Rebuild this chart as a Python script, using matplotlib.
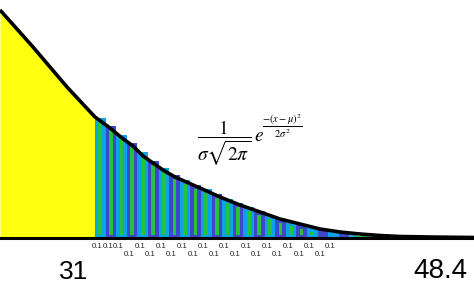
import numpy as np
import matplotlib.pyplot as plt

# curve: position along the axis and height above the baseline
curve_x = [0, 33, 67, 95, 110, 122, 133, 143, 153, 163, 175, 200, 220, 240,
           260, 280, 300, 320, 340, 360, 380, 400, 430, 474]
curve_h = [228, 191, 151, 121, 110, 100, 92, 82, 75, 68, 61, 50, 41, 33,
           26, 19, 14, 9, 6, 4, 2.5, 1.5, 1, 0.5]

# bar heights (one per 0.1 slice), left to right
bar_h = [120, 112, 103, 95, 86, 77, 70, 63, 58, 53, 49, 44,
         39, 35, 31, 27, 23, 19, 16, 13, 10, 8, 6, 5]
bar_labels = ['0.1'] * 23

x_labels = ['31', '48.4']

# layout
bar_start = 95
bar_w = 10.6
light, dark, green = '#0aa2e8', '#3f48cc', '#26c23a'

plt.rcParams['mathtext.fontset'] = 'stix'
fig = plt.figure(figsize=(4.74, 2.86), dpi=100)
ax = fig.add_axes([0, 0, 1, 1])
ax.set_xlim(0, 474)
ax.set_ylim(-48, 238)
ax.axis('off')

cx = np.array(curve_x, dtype=float)
ch = np.array(curve_h, dtype=float)

# yellow area left of the bars
xs = np.linspace(0, bar_start, 50)
ax.fill_between(xs, 0, np.interp(xs, cx, ch), color='#ffff10', lw=0, zorder=1)

# bars with green core
for i, h in enumerate(bar_h):
    left = bar_start + i * bar_w
    col = light if i % 2 == 0 else dark
    ax.bar(left, h, width=bar_w, align='edge', color=col, lw=0, zorder=2)
    ih = h - 7
    if ih > 1.5:
        icol = green if i < 21 else (dark if col == light else light)
        ax.bar(left + bar_w / 2, ih, bottom=3, width=3.6, color=icol, lw=0, zorder=3)
# last little teal piece and green tail
tail_left = bar_start + len(bar_h) * bar_w
ax.bar(tail_left, 4, width=8, align='edge', color='#20b0c0', lw=0, zorder=2)
ax.bar(tail_left + 8, 2, width=32, align='edge', color=green, lw=0, zorder=2)

# curve and baseline
ax.plot(cx, ch, color='black', lw=2.6, solid_capstyle='butt', zorder=5)
ax.plot([0, 474], [0, 0], color='black', lw=2.2, zorder=5)

# little 0.1 labels, staggered in two rows
for i, lab in enumerate(bar_labels):
    xc = bar_start + (i + 0.5) * bar_w - 3
    yy = -16 if (i % 2 == 1 and i >= 3) else -9
    ax.text(xc, yy, lab, fontsize=5.6, family='Liberation Sans',
            ha='center', va='center', color='#222222', zorder=6)

# axis end labels
ax.text(74, -34, x_labels[0], fontsize=19, family='Liberation Sans',
        ha='center', va='center', color='black')
ax.text(440, -33, x_labels[1], fontsize=20, family='Liberation Sans',
        ha='center', va='center', color='black')

# formula
ax.text(197, 95, r'$\dfrac{1}{\sigma\sqrt{2\pi}}\,e$',
        fontsize=14, ha='left', va='center', color='black', zorder=6)
ax.text(282, 112, r'$\dfrac{-(x-\mu)^2}{2\sigma^2}$',
        fontsize=7.5, ha='center', va='center', color='black', zorder=6)

fig.savefig('out.png', dpi=100, facecolor='white')
